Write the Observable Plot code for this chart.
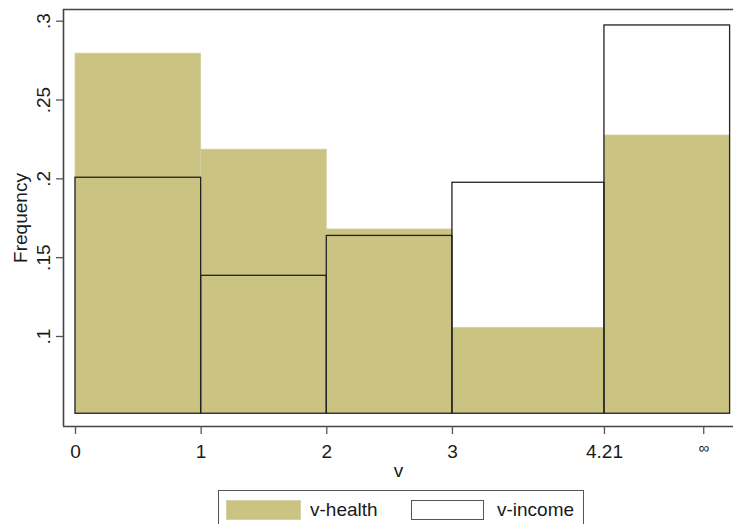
<!DOCTYPE html>
<html>
<head>
<meta charset="utf-8">
<script src="https://cdn.jsdelivr.net/npm/d3@7"></script>
<script src="https://cdn.jsdelivr.net/npm/@observablehq/plot@0.6"></script>
<style>
  html, body { margin: 0; padding: 0; background: #fff; overflow: hidden; width: 733px; height: 524px; }
  body { position: relative; font-family: "Liberation Sans", Arial, sans-serif; }
  #chart { position: absolute; left: 0; top: 0; }
  .legend { position: absolute; left: 218px; top: 490px; width: 366px; height: 44px; border: 1.5px solid #555; box-sizing: border-box; }
  .sw { position: absolute; top: 9px; height: 20px; box-sizing: border-box; }
  .lab { position: absolute; top: 8px; font-size: 19px; line-height: 22px; color: #1a1a1a; }
</style>
</head>
<body>
<div id="chart"></div>
<div class="legend">
  <div class="sw" style="left:7px;width:75px;background:#cac382;border:1px solid #d6d1a6;"></div>
  <div class="lab" style="left:91px;">v-health</div>
  <div class="sw" style="left:192px;width:73px;background:#fff;border:1.5px solid #555;"></div>
  <div class="lab" style="left:278px;">v-income</div>
</div>
<script>
// Bin edges (last bin drawn from 4.21 to 5.21, labelled ∞ at 5)
const binStart = [0, 1, 2, 3, 4.21];
const binEnd   = [1, 2, 3, 4.21, 5.21];
const health   = [0.2794, 0.2185, 0.1679, 0.1055, 0.2275];
const income   = [0.2007, 0.1385, 0.1638, 0.1975, 0.2973];
const barBase  = 0.051;
const yTicks   = [0.1, 0.15, 0.2, 0.25, 0.3];
const yLabels  = [".1", ".15", ".2", ".25", ".3"];
const xTicks   = [0, 1, 2, 3, 4.21, 5];
const xLabels  = ["0", "1", "2", "3", "4.21", "∞"];

const bins = binStart.map((s, i) => ({x1: s, x2: binEnd[i], health: health[i], income: income[i]}));
const xDomain = [-0.0955, 5.237];
const yDomain = [0.04291, 0.30742];
const font = "Liberation Sans, Arial, sans-serif";
const ink = "#1a1a1a";
const frameCol = "#444";

const plot = Plot.plot({
  width: 733,
  height: 486,
  marginLeft: 63,
  marginRight: 0,
  marginTop: 9,
  marginBottom: 60,
  style: {fontFamily: font, background: "white"},
  x: {type: "linear", domain: xDomain},
  y: {type: "linear", domain: yDomain},
  marks: [
    Plot.rectY(bins, {x1: "x1", x2: "x2", y1: () => barBase, y2: "health", fill: "#cac382", stroke: "#d4cea0", strokeWidth: 0.8}),
    Plot.rectY(bins, {x1: "x1", x2: "x2", y1: () => barBase, y2: "income", fill: "none", stroke: "#222", strokeWidth: 1.3}),
    // frame: left, top, bottom
    Plot.ruleX([xDomain[0]], {stroke: frameCol, strokeWidth: 1.6}),
    Plot.ruleY([yDomain[0], yDomain[1]], {stroke: frameCol, strokeWidth: 1.6}),
    // y ticks
    Plot.axisY({ticks: yTicks, tickSize: 7, tickFormat: () => "", label: null, stroke: "#555", strokeWidth: 1.3}),
    Plot.text(yTicks, {y: d => d, text: (d, i) => yLabels[i], frameAnchor: "left", dx: -20, rotate: -90,
      fontSize: 19, fill: ink, textAnchor: "middle", lineAnchor: "middle"}),
    Plot.text(["Frequency"], {frameAnchor: "left", dx: -43, rotate: -90, fontSize: 19, fill: ink,
      textAnchor: "middle", lineAnchor: "middle"}),
    // x ticks
    Plot.axisX({ticks: xTicks, tickSize: 8, tickFormat: () => "", label: null, stroke: "#555", strokeWidth: 1.3}),
    Plot.text(xTicks.slice(0, 5), {x: d => d, text: (d, i) => xLabels[i], frameAnchor: "bottom", dy: 25,
      fontSize: 19, fill: ink, textAnchor: "middle", lineAnchor: "middle"}),
    Plot.text(xTicks.slice(5), {x: d => d, text: () => xLabels[5], frameAnchor: "bottom", dy: 22,
      fontSize: 15, fill: ink, textAnchor: "middle", lineAnchor: "middle"}),
    Plot.text(["v"], {frameAnchor: "bottom", dy: 44, fontSize: 19, fill: ink, textAnchor: "middle", lineAnchor: "middle"})
  ]
});
document.getElementById("chart").appendChild(plot);
</script>
</body>
</html>
